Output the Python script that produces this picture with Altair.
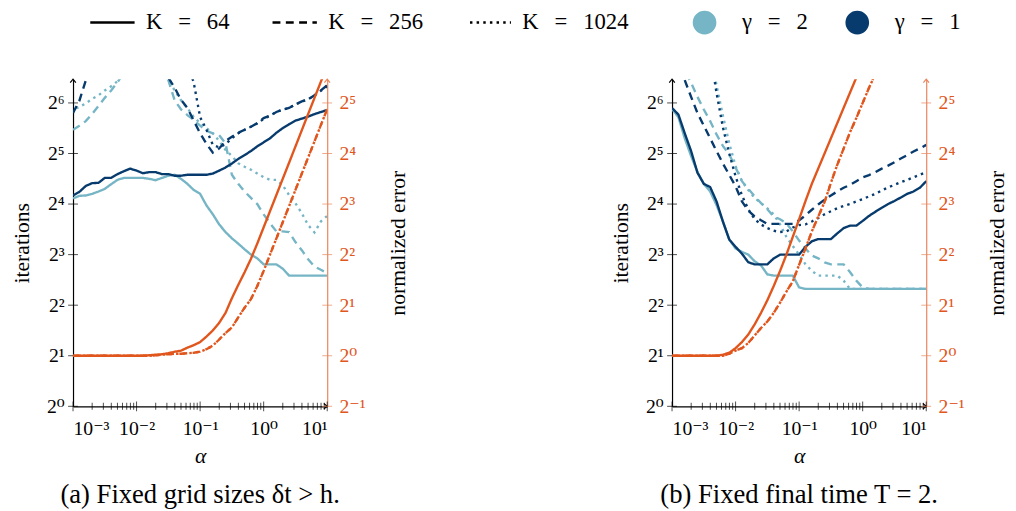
import altair as alt
import pandas as pd

# ---------------- data ----------------
ALPHA = [0.001, 0.001259, 0.001585, 0.001995, 0.002512, 0.003162, 0.003981, 0.005012, 0.00631, 0.007943,
         0.01, 0.01259, 0.01585, 0.01995, 0.02512, 0.03162, 0.03981, 0.05012, 0.0631, 0.07943,
         0.1, 0.1259, 0.1585, 0.1995, 0.2512, 0.3162, 0.3981, 0.5012, 0.631, 0.7943,
         1.0, 1.259, 1.585, 1.995, 2.512, 3.162, 3.981, 5.012, 6.31, 7.943, 10.0]

SP = "\u2002\u2009"
K_LABELS = [f"K{SP}={SP}64", f"K{SP}={SP}256", f"K{SP}={SP}1024"]
GAMMA_LABELS = [f"\u03b3{SP}={SP}2", f"\u03b3{SP}={SP}1"]
N = None

# panel (a): iterations
A_G2_K64 = [17.3, 17.9, 18.0, 18.4, 19.0, 19.7, 21.0, 22.3, 22.9, 22.9, 22.9, 22.9, 22.6, 22.2, 22.9, 23.6,
            23.9, 22.6, 21.1, 19.4, 18.4, 15.7, 13.9, 12.1, 10.9, 10.0, 9.3, 8.6, 8.0, 7.6, 7.0, 7.0, 7.0,
            6.6, 6.0, 6.0, 6.0, 6.0, 6.0, 6.0, 6.0]
A_G2_K256 = [44.3, 46.8, 49.9, 55.0, 61.4, 68.6, 76.0, 85.0, 97.0, N, N, N, N, N, 104.0, 87.4,
             66.3, 58.5, 54.2, 50.6, 46.9, 43.7, 42.2, 41.1, 36.8, 23.9, 21.1, 19.0, 17.4, 16.0, 13.9,
             12.3, 11.0, 11.0, 10.9, 9.5, 8.5, 7.5, 6.8, 6.5, 6.2]
A_G2_K1024 = [58.5, 60.6, 63.6, 67.7, 71.0, 76.0, 80.4, 86.2, 97.0, N, N, N, N, N, 104.0, 87.4,
              76.0, 66.3, 59.7, 52.7, 48.5, 45.3, 42.2, 38.0, 33.6, 30.9, 28.0, 26.7, 25.6, 24.3, 23.1,
              22.3, 22.3, 20.7, 18.1, 16.2, 14.1, 12.0, 10.85, 12.6, 13.6]
A_G1_K64 = [18.0, 18.9, 20.5, 21.3, 21.4, 22.9, 22.9, 24.1, 25.1, 26.0, 25.3, 24.4, 24.8, 24.8, 24.1, 24.1,
            23.6, 23.6, 23.9, 23.9, 23.9, 23.9, 24.3, 25.3, 26.4, 27.9, 29.7, 31.3, 33.1, 35.3, 37.3,
            39.4, 42.5, 45.3, 47.8, 50.2, 51.6, 53.1, 54.9, 56.5, 58.1]
A_G1_K256 = [55.7, 66.0, 87.0, 120.0, N, N, N, N, N, N, N, N, N, N, 128.0, 90.5,
             78.8, 66.7, 59.7, 50.2, 42.2, 36.5, 32.4, 34.3, 38.0, 40.2, 42.5, 44.3, 46.2, 48.5, 52.0,
             53.8, 56.5, 58.5, 59.7, 62.7, 65.3, 67.2, 71.0, 76.0, 81.6]
A_G1_K1024 = [N, N, N, N, N, N, N, N, N, N, N, N, N, N, N, N,
              N, N, 111.0, 84.4, 52.7, 44.3, 36.0, 34.8, 36.3, 39.4, 42.2, 44.3, 46.2, 48.5, 51.3,
              53.8, 56.5, 58.5, 59.7, 62.7, 65.3, 67.2, 71.0, 75.6, 80.4]

# panel (a): normalized error
A_ERR_K64 = [1.0, 1.0, 1.0, 1.0, 1.0, 1.0, 1.0, 1.0, 1.0, 1.0, 1.0, 1.0, 1.007, 1.014, 1.021, 1.035,
             1.057, 1.072, 1.117, 1.156, 1.206, 1.301, 1.414, 1.569, 1.8, 2.2, 2.64, 3.14, 3.78, 4.66,
             5.82, 7.26, 9.06, 11.3, 14.1, 17.6, 22.0, 27.5, 34.3, 42.8, 53.4]
A_ERR_K256 = [1.0, 1.0, 1.0, 1.0, 1.0, 1.0, 1.0, 1.0, 1.0, 1.0, 1.0, 1.0, 1.0, 1.007, 1.014, 1.021,
              1.028, 1.028, 1.035, 1.042, 1.057, 1.094, 1.149, 1.249, 1.366, 1.474, 1.693, 1.932, 2.173,
              2.603, 3.2, 4.0, 4.99, 6.23, 7.78, 9.71, 12.13, 15.14, 18.9, 23.6, 29.4]
A_ERR_K1024 = [1.0, 1.0, 1.0, 1.0, 1.0, 1.0, 1.0, 1.0, 1.0, 1.0, 1.0, 1.0, 1.0, 1.007, 1.014, 1.021,
               1.028, 1.028, 1.035, 1.042, 1.057, 1.094, 1.149, 1.249, 1.366, 1.474, 1.693, 1.932, 2.173,
               2.603, 3.2, 4.0, 4.99, 6.23, 7.78, 9.71, 12.13, 15.14, 18.9, 23.6, 29.4]

# panel (b): iterations
B_G2_K64 = [58.9, 52.7, 39.4, 30.9, 24.8, 21.1, 19.0, 15.8, 12.6, 9.85, 8.7, 8.3, 8.0, 7.3, 6.9, 6.1,
            6.0, 6.0, 6.0, 6.0, 5.1, 5.0, 5.0, 5.0, 5.0, 5.0, 5.0, 5.0, 5.0, 5.0, 5.0,
            5.0, 5.0, 5.0, 5.0, 5.0, 5.0, 5.0, 5.0, 5.0, 5.0]
B_G2_K256 = [N, 137.0, 100.0, 84.4, 69.6, 58.5, 49.9, 41.6, 35.5, 31.6, 26.4, 21.9, 19.7, 17.8, 16.2, 14.9,
             13.5, 13.0, 12.3, 11.0, 9.7, 8.7, 7.9, 7.6, 7.2, 7.0, 7.0, 7.0, 6.3, 5.6, 5.1,
             5.0, 5.0, 5.0, 5.0, 5.0, 5.0, 5.0, 5.0, 5.0, 5.0]
B_G2_K1024 = [N, N, N, N, N, N, 128.0, 81.6, 53.8, 36.8, 26.9, 21.9, 19.4, 17.4, 16.2, 15.1,
              13.9, 12.1, 10.2, 9.0, 8.0, 7.0, 6.4, 6.0, 6.0, 6.0, 6.0, 5.6, 5.0, 5.0, 5.0,
              5.0, 5.0, 5.0, 5.0, 5.0, 5.0, 5.0, 5.0, 5.0, 5.0]
B_G1_K64 = [59.7, 54.6, 42.2, 33.1, 24.6, 21.1, 20.2, 16.6, 12.6, 9.85, 8.9, 8.1, 7.2, 7.0, 7.0, 7.0,
            7.6, 8.0, 8.0, 8.0, 8.0, 8.9, 9.6, 9.9, 9.9, 9.9, 10.7, 11.5, 11.9, 11.9, 12.7,
            13.6, 14.4, 15.2, 16.0, 16.7, 17.5, 18.4, 19.0, 20.0, 21.9]
B_G1_K256 = [147.0, 111.0, 87.4, 69.6, 55.7, 46.9, 39.4, 33.1, 27.9, 23.9, 20.4, 16.6, 14.6, 13.5, 12.8, 12.2,
             12.2, 12.2, 12.2, 12.2, 12.8, 13.7, 14.8, 15.9, 17.0, 18.0, 19.0, 20.0, 20.8, 21.9, 23.1,
             23.8, 24.8, 26.0, 27.1, 28.4, 29.9, 31.3, 32.9, 34.3, 36.0]
B_G1_K1024 = [N, N, N, N, N, N, 128.0, 73.5, 45.9, 32.0, 23.4, 18.0, 14.9, 13.0, 12.1, 11.5,
              11.1, 10.9, 11.0, 11.6, 12.0, 12.1, 12.6, 13.2, 13.9, 14.5, 15.1, 15.6, 16.0, 16.6, 17.1,
              17.8, 18.4, 19.3, 20.1, 20.8, 21.6, 22.3, 23.1, 23.9, 24.8]

# panel (b): normalized error
B_ERR_K64 = [1.0, 1.0, 1.0, 1.0, 1.0, 1.0, 1.0, 1.0, 1.014, 1.042, 1.11, 1.206, 1.338, 1.537, 1.8, 2.14,
             2.6, 3.2, 4.0, 5.1, 6.5, 8.34, 10.56, 13.0, 16.0, 19.7, 24.25, 29.9, 36.8, 45.3, 55.7,
             N, N, N, N, N, N, N, N, N, N]
B_ERR_K256 = [1.0, 1.0, 1.0, 1.0, 1.0, 1.0, 1.0, 1.0, 1.0, 1.028, 1.072, 1.11, 1.19, 1.32, 1.464, 1.6,
              1.8, 2.07, 2.41, 2.77, 3.48, 4.35, 5.5, 6.73, 8.22, 10.7, 13.7, 17.1, 21.4, 26.0, 32.0,
              39.4, 47.8, 57.7, N, N, N, N, N, N, N]
B_ERR_K1024 = [1.0, 1.0, 1.0, 1.0, 1.0, 1.0, 1.0, 1.0, 1.0, 1.028, 1.072, 1.11, 1.19, 1.32, 1.464, 1.6,
               1.8, 2.07, 2.41, 2.77, 3.48, 4.35, 5.5, 6.73, 8.22, 10.7, 13.7, 17.1, 21.4, 26.0, 32.0,
               39.4, 47.8, 57.7, N, N, N, N, N, N, N]

# axis ticks and labels
X_MAJOR = [0.001, 0.01, 0.1, 1.0, 10.0]
X_MAJOR_LABELS = ["10\u207b\u00b3", "10\u207b\u00b2", "10\u207b\u00b9", "10\u2070", "10\u00b9"]
X_MINOR = [m * d for d in [0.001, 0.01, 0.1, 1.0] for m in [2, 3, 4, 5, 6, 7, 8, 9]]
Y_LEFT = [1, 2, 4, 8, 16, 32, 64]
Y_LEFT_LABELS = ["2\u2070", "2\u00b9", "2\u00b2", "2\u00b3", "2\u2074", "2\u2075", "2\u2076"]
Y_RIGHT = [0.5, 1, 2, 4, 8, 16, 32]
Y_RIGHT_LABELS = ["2\u207b\u00b9", "2\u2070", "2\u00b9", "2\u00b2", "2\u00b3", "2\u2074", "2\u2075"]

TITLES = ["(a) Fixed grid sizes \u03b4t > h.", "(b) Fixed final time T = 2."]

# ---------------- style ----------------
FONT = "Liberation Serif, DejaVu Serif, serif"
LIGHT = "#76b5c5"
DARK = "#073b6e"
ORANGE = "#e0561d"
ORANGE_AX = "#e8845a"
W, H = 258, 332
Y_TOP_ITER = 88.6
Y_TOP_ERR = 44.3
LBL, TTL = 20, 22


def label_expr(vals, labels):
    expr = "''"
    for v, l in reversed(list(zip(vals, labels))):
        expr = f"datum.value == {v} ? '{l}' : ({expr})"
    return expr


def long_rows(series):
    rows = []
    for gamma, k, values in series:
        seg, gap = 0, True
        for a, v in zip(ALPHA, values):
            if v is None:
                gap = True
                continue
            if gap:
                seg += 1
                gap = False
            rows.append({"alpha": a, "value": v, "gamma": gamma, "K": k,
                         "series": f"{gamma}|{k}|{seg}"})
    return pd.DataFrame(rows)


xscale = alt.Scale(type="log", domain=[0.001, 10], nice=False)
iscale = alt.Scale(type="log", base=2, domain=[1, Y_TOP_ITER], nice=False)
escale = alt.Scale(type="log", base=2, domain=[0.5, Y_TOP_ERR], nice=False)
color_scale = alt.Scale(domain=GAMMA_LABELS, range=[LIGHT, DARK])
dash_scale = alt.Scale(domain=K_LABELS, range=[[1, 0], [8, 5.5], [0, 3.4, 2.5, 0.85]])

X_AXIS = alt.Axis(values=X_MAJOR, labelExpr=label_expr(X_MAJOR, X_MAJOR_LABELS), ticks=False,
                  domainColor="black", domainWidth=1.2, title="\u03b1", titleFontStyle="italic",
                  labelPadding=13, titlePadding=7, grid=False, labelFont=FONT, titleFont=FONT,
                  labelFontSize=LBL, titleFontSize=TTL, titleFontWeight="normal", labelColor="black",
                  titleColor="black")
Y_AXIS = alt.Axis(values=Y_LEFT, labelExpr=label_expr(Y_LEFT, Y_LEFT_LABELS), ticks=False,
                  domainColor="black", domainWidth=1.2, title="iterations", labelPadding=9,
                  titlePadding=13, grid=False, labelFont=FONT, titleFont=FONT, labelFontSize=LBL,
                  titleFontSize=TTL, titleFontWeight="normal", labelColor="black", titleColor="black")
E_AXIS = alt.Axis(values=Y_RIGHT, labelExpr=label_expr(Y_RIGHT, Y_RIGHT_LABELS), ticks=False,
                  orient="right", domainColor=ORANGE_AX, domainWidth=1.2, labelColor=ORANGE,
                  title="normalized error", titleAngle=270, labelPadding=12, titlePadding=45,
                  grid=False, labelFont=FONT, titleFont=FONT, labelFontSize=LBL, titleFontSize=TTL,
                  titleFontWeight="normal", titleColor="black")
COLOR_LEGEND = alt.Legend(title=None, orient="none", legendX=629, legendY=-69.5, direction="horizontal",
                          symbolType="circle", symbolSize=144, symbolStrokeWidth=12, labelFontSize=23,
                          labelOffset=26, columnPadding=20, labelFont=FONT, labelColor="black")
DASH_LEGEND = alt.Legend(title=None, orient="none", legendX=16, legendY=-81.5, direction="horizontal",
                         symbolType="stroke", symbolSize=2025, symbolStrokeWidth=2.6,
                         symbolStrokeColor="black", labelFontSize=23, labelOffset=10, columnPadding=38,
                         labelFont=FONT, labelColor="black")

UP = "M-0.9,1.1L0,0L0.9,1.1"
RIGHT = "M-1.1,-0.9L0,0L-1.1,0.9"


def panel(iter_series, err_series, title):
    idf = long_rows(iter_series)
    edf = long_rows(err_series)

    lines = alt.Chart(idf).mark_line(clip=True, strokeWidth=2.4).encode(
        x=alt.X("alpha:Q", scale=xscale, axis=X_AXIS),
        y=alt.Y("value:Q", scale=iscale, axis=Y_AXIS),
        color=alt.Color("gamma:N", scale=color_scale, legend=COLOR_LEGEND),
        strokeDash=alt.StrokeDash("K:N", scale=dash_scale, legend=DASH_LEGEND),
        detail="series:N",
    )
    xmaj = alt.Chart(pd.DataFrame({"alpha": X_MAJOR})).mark_tick(color="black", thickness=1, size=10).encode(
        x=alt.X("alpha:Q", scale=xscale, axis=X_AXIS), y=alt.value(H))
    xmin = alt.Chart(pd.DataFrame({"alpha": X_MINOR})).mark_tick(color="black", thickness=1, size=7).encode(
        x=alt.X("alpha:Q", scale=xscale, axis=X_AXIS), y=alt.value(H))
    yl = alt.Chart(pd.DataFrame({"value": Y_LEFT})).mark_tick(color="black", thickness=1, size=10).encode(
        y=alt.Y("value:Q", scale=iscale, axis=Y_AXIS), x=alt.value(0))
    arrows = alt.Chart(pd.DataFrame({"a": [0]}))
    up_left = arrows.mark_point(shape=UP, size=40, filled=False, stroke="black", strokeWidth=1.2,
                                opacity=1).encode(x=alt.value(0), y=alt.value(0))
    right_x = arrows.mark_point(shape=RIGHT, size=40, filled=False, stroke="black", strokeWidth=1.2,
                                opacity=1).encode(x=alt.value(W), y=alt.value(H))
    iter_part = alt.layer(lines, xmaj, xmin, yl, up_left, right_x)

    elines = alt.Chart(edf).mark_line(clip=True, strokeWidth=2.4, color=ORANGE).encode(
        x=alt.X("alpha:Q", scale=xscale, axis=X_AXIS),
        y=alt.Y("value:Q", scale=escale, axis=E_AXIS),
        strokeDash=alt.StrokeDash("K:N", scale=dash_scale, legend=DASH_LEGEND),
        detail="series:N",
    )
    yr = alt.Chart(pd.DataFrame({"value": Y_RIGHT})).mark_tick(color=ORANGE_AX, thickness=1, size=10).encode(
        y=alt.Y("value:Q", scale=escale, axis=E_AXIS), x=alt.value(W))
    up_right = arrows.mark_point(shape=UP, size=40, filled=False, stroke=ORANGE_AX, strokeWidth=1.2,
                                 opacity=1).encode(x=alt.value(W), y=alt.value(0))
    err_part = alt.layer(elines, yr, up_right)

    return alt.layer(iter_part, err_part).resolve_scale(y="independent").properties(
        width=W, height=H,
        title=alt.TitleParams(title, orient="bottom", font=FONT, fontSize=27, fontWeight="normal",
                              offset=16, color="black"))


ITER_A = [(GAMMA_LABELS[0], K_LABELS[0], A_G2_K64), (GAMMA_LABELS[0], K_LABELS[1], A_G2_K256),
          (GAMMA_LABELS[0], K_LABELS[2], A_G2_K1024), (GAMMA_LABELS[1], K_LABELS[0], A_G1_K64),
          (GAMMA_LABELS[1], K_LABELS[1], A_G1_K256), (GAMMA_LABELS[1], K_LABELS[2], A_G1_K1024)]
ERR_A = [("e", K_LABELS[0], A_ERR_K64), ("e", K_LABELS[1], A_ERR_K256), ("e", K_LABELS[2], A_ERR_K1024)]
ITER_B = [(GAMMA_LABELS[0], K_LABELS[0], B_G2_K64), (GAMMA_LABELS[0], K_LABELS[1], B_G2_K256),
          (GAMMA_LABELS[0], K_LABELS[2], B_G2_K1024), (GAMMA_LABELS[1], K_LABELS[0], B_G1_K64),
          (GAMMA_LABELS[1], K_LABELS[1], B_G1_K256), (GAMMA_LABELS[1], K_LABELS[2], B_G1_K1024)]
ERR_B = [("e", K_LABELS[0], B_ERR_K64), ("e", K_LABELS[1], B_ERR_K256), ("e", K_LABELS[2], B_ERR_K1024)]

chart = alt.hconcat(panel(ITER_A, ERR_A, TITLES[0]), panel(ITER_B, ERR_B, TITLES[1]), spacing=203).properties(
    padding={"left": 2, "top": -13.5, "right": 0, "bottom": 0}
).configure_view(stroke=None).configure_axis(
    labelFont=FONT, titleFont=FONT, titleFontWeight="normal"
).configure_legend(labelFont=FONT, labelColor="black")

chart.save("out.html", embed_options={"renderer": "svg", "actions": False})
